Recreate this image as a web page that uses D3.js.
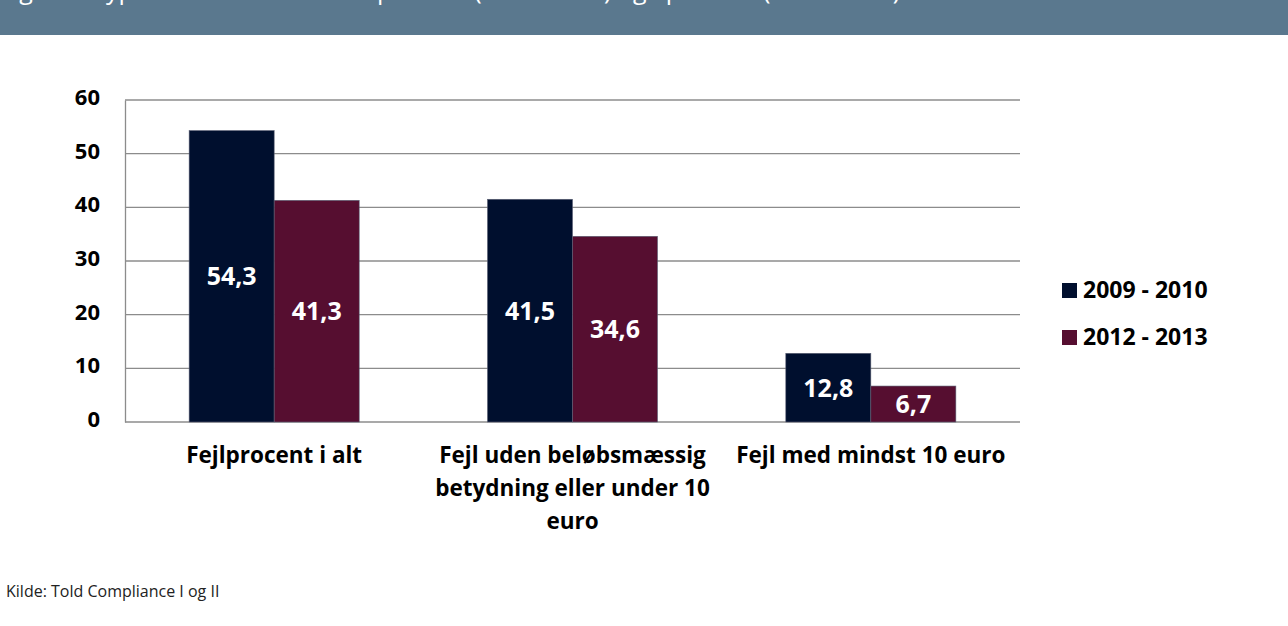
<!DOCTYPE html>
<html lang="da">
<head>
  <meta charset="UTF-8">
  <title>Fejlprocent</title>
  <script src="https://d3js.org/d3.v7.min.js"></script>
  <style>
    html, body { margin: 0; padding: 0; background: #fff; }
    svg { display: block; font-family: "Open Sans", sans-serif; }
    .tick text { font-weight: bold; font-size: 22px; fill: #000; font-family: "Open Sans", sans-serif; }
  </style>
</head>
<body>
<div id="chart"></div>
<script>
  const categories = [
    ["Fejlprocent i alt"],
    ["Fejl uden beløbsmæssig", "betydning eller under 10", "euro"],
    ["Fejl med mindst 10 euro"]
  ];
  const seriesNames = ["2009 - 2010", "2012 - 2013"];
  const values2009 = [54.3, 41.5, 12.8];
  const values2012 = [41.3, 34.6, 6.7];
  const yTicks = [0, 10, 20, 30, 40, 50, 60];
  const colors = ["#000f2e", "#560e30"];
  const title = "Figur 3. Typer af overtrædelser i procent (2009-2010) og i procent (2012-2013)";
  const source = "Kilde: Told Compliance I og II";

  const W = 1288, H = 626;
  const plot = { left: 125, right: 1020, top: 100, bottom: 422 };

  const svg = d3.select("#chart").append("svg")
    .attr("width", W).attr("height", H);

  // header band, the title is cut off at the top like in the report page
  svg.append("rect").attr("x", 0).attr("y", 0).attr("width", W).attr("height", 35)
    .attr("fill", "#5a788e");
  svg.append("text").attr("x", 0).attr("y", -1)
    .attr("fill", "#fff").attr("font-size", 25)
    .text(title);

  const x0 = d3.scaleBand().domain(d3.range(categories.length))
    .range([plot.left, plot.right]);
  const groupW = x0.bandwidth() * 0.57;
  const x1 = d3.scaleBand().domain(d3.range(seriesNames.length))
    .range([0, groupW]);
  const y = d3.scaleLinear().domain([0, 60]).range([plot.bottom, plot.top]);

  // grid
  svg.append("g").selectAll("line").data(yTicks).join("line")
    .attr("x1", plot.left).attr("x2", plot.right)
    .attr("y1", d => y(d)).attr("y2", d => y(d))
    .attr("stroke", "#8c8c8c").attr("stroke-width", 1.3);

  const yAxis = svg.append("g")
    .attr("transform", `translate(${plot.left},0)`)
    .call(d3.axisLeft(y).tickValues(yTicks).tickSize(0).tickPadding(25));
  yAxis.attr("font-family", null).attr("font-size", null);
  yAxis.select(".domain").attr("stroke", "#8c8c8c").attr("stroke-width", 1.3);
  yAxis.selectAll(".tick text").attr("dy", "0.2em");

  const rows = values2009.map((v, i) => [v, values2012[i]]);

  const groups = svg.append("g").selectAll("g").data(rows).join("g")
    .attr("transform", (d, i) => `translate(${x0(i) + (x0.bandwidth() - groupW) / 2},0)`);

  groups.selectAll("rect").data(d => d).join("rect")
    .attr("x", (d, j) => x1(j))
    .attr("y", d => y(d))
    .attr("width", x1.bandwidth())
    .attr("height", d => y(0) - y(d))
    .attr("fill", (d, j) => colors[j])
    .attr("stroke", "#5b6075").attr("stroke-width", 0.6);

  groups.selectAll("text").data(d => d).join("text")
    .attr("x", (d, j) => x1(j) + x1.bandwidth() / 2)
    .attr("y", d => (y(d) + y(0)) / 2)
    .attr("dy", "0.36em")
    .attr("text-anchor", "middle")
    .attr("fill", "#fff").attr("font-weight", "bold").attr("font-size", 25)
    .text(d => d.toString().replace(".", ","));

  // category labels
  const catG = svg.append("g").selectAll("text").data(categories).join("text")
    .attr("text-anchor", "middle")
    .attr("font-weight", "bold").attr("font-size", 22.5).attr("fill", "#000");
  catG.selectAll("tspan").data((d, i) => d.map(t => ({ t, i }))).join("tspan")
    .attr("x", d => x0(d.i) + x0.bandwidth() / 2)
    .attr("y", (d, k) => 463 + k * 33)
    .text(d => d.t);

  // legend
  const leg = svg.append("g").selectAll("g").data(seriesNames).join("g")
    .attr("transform", (d, i) => `translate(1062,${290 + i * 47})`);
  leg.append("rect").attr("x", 0).attr("y", -7).attr("width", 15).attr("height", 15)
    .attr("fill", (d, i) => colors[i]);
  leg.append("text").attr("x", 21).attr("dy", "0.36em")
    .attr("font-weight", "bold").attr("font-size", 23).attr("fill", "#000")
    .text(d => d);

  svg.append("text").attr("x", 6).attr("y", 597)
    .attr("font-size", 16).attr("fill", "#222").text(source);
</script>
</body>
</html>
